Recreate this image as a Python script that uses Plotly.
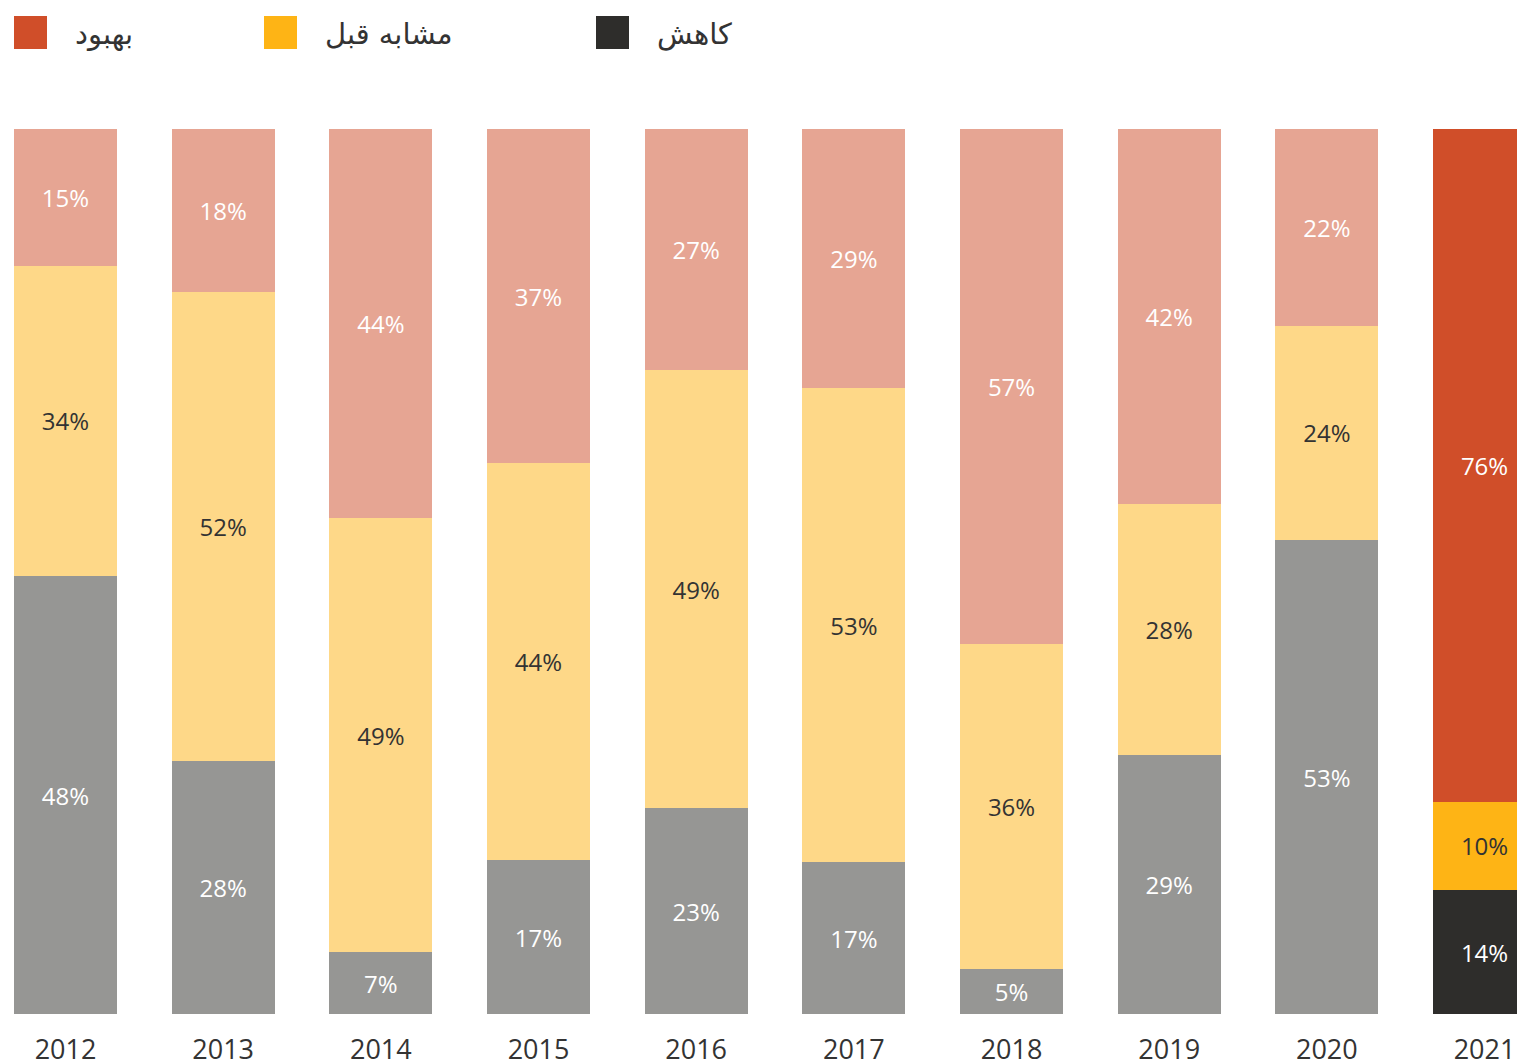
import plotly.graph_objects as go

# ---- data ----
years = ["2012", "2013", "2014", "2015", "2016", "2017", "2018", "2019", "2020", "2021"]
decrease = [48, 28, 7, 17, 23, 17, 5, 29, 53, 14]      # کاهش
same = [34, 52, 49, 44, 49, 53, 36, 28, 24, 10]         # مشابه قبل
improve = [15, 18, 44, 37, 27, 29, 57, 42, 22, 76]      # بهبود
series_names = ["کاهش", "مشابه قبل", "بهبود"]
legend_order = ["بهبود", "مشابه قبل", "کاهش"]

# ---- styles ----
W, H = 1517, 1062
ML, MR, MT, MB = 14, 0, 129, 48
muted = {"کاهش": "#969694", "مشابه قبل": "#FED888", "بهبود": "#E6A593"}
strong = {"کاهش": "#2E2D2B", "مشابه قبل": "#FEB415", "بهبود": "#D04E29"}
txt_muted = {"کاهش": "#FFFFFF", "مشابه قبل": "#333333", "بهبود": "#FFFFFF"}
txt_strong = {"کاهش": "#FFFFFF", "مشابه قبل": "#333333", "بهبود": "#FFFFFF"}
highlight = "2021"
FONT = "Open Sans, DejaVu Sans, sans-serif"

x_idx = list(range(len(years)))
fig = go.Figure()
for name, vals in zip(series_names, [decrease, same, improve]):
    cols = [strong[name] if y == highlight else muted[name] for y in years]
    tcols = [txt_strong[name] if y == highlight else txt_muted[name] for y in years]
    fig.add_trace(go.Bar(
        x=x_idx, y=vals, name=name,
        marker=dict(color=cols, line=dict(width=0)),
        text=[f"{v}%" for v in vals],
        textposition="inside", insidetextanchor="middle", textangle=0,
        constraintext="none",
        insidetextfont=dict(family=FONT, size=24, color=tcols),
        hoverinfo="skip", showlegend=False,
    ))

plot_w = W - ML - MR
plot_h = H - MT - MB
# helpers converting screen pixel positions to paper coords
def px_x(p):
    return (p - ML) / plot_w
def px_y(p):
    return (H - MB - p) / plot_h

# legend drawn as swatches + labels
sw_left = [14, 264, 596]
for i, name in enumerate(legend_order):
    fig.add_shape(type="rect", xref="paper", yref="paper",
                  x0=px_x(sw_left[i]), x1=px_x(sw_left[i] + 33),
                  y0=px_y(49), y1=px_y(16),
                  fillcolor=strong[name], line=dict(width=0))
    fig.add_annotation(xref="paper", yref="paper", x=px_x(sw_left[i] + 59), y=px_y(34),
                       xanchor="left", yanchor="middle", showarrow=False,
                       text=name, font=dict(family="DejaVu Sans, sans-serif", size=29, color="#333333"))

spacing = 157.67
bar_frac = 103 / spacing
fig.update_layout(
    width=W, height=H,
    margin=dict(l=ML, r=MR, t=MT, b=MB, pad=0, autoexpand=False),
    barmode="stack", barnorm="percent", bargap=1 - bar_frac,
    plot_bgcolor="white", paper_bgcolor="white",
    uniformtext=dict(mode=False),
    xaxis=dict(
        tickmode="array", tickvals=x_idx, ticktext=years,
        range=[-bar_frac / 2, -bar_frac / 2 + plot_w / spacing],
        showgrid=False, zeroline=False, showline=False, automargin=False,
        ticks="outside", ticklen=12, tickcolor="rgba(0,0,0,0)",
        tickfont=dict(family=FONT, size=27, color="#333333"),
    ),
    yaxis=dict(range=[0, 100], visible=False, showgrid=False, automargin=False),
)

fig.write_html(
    "out.html",
    config={"responsive": False, "displayModeBar": False},
    post_script="document.body.style.margin='0';document.body.style.overflow='hidden';",
)
